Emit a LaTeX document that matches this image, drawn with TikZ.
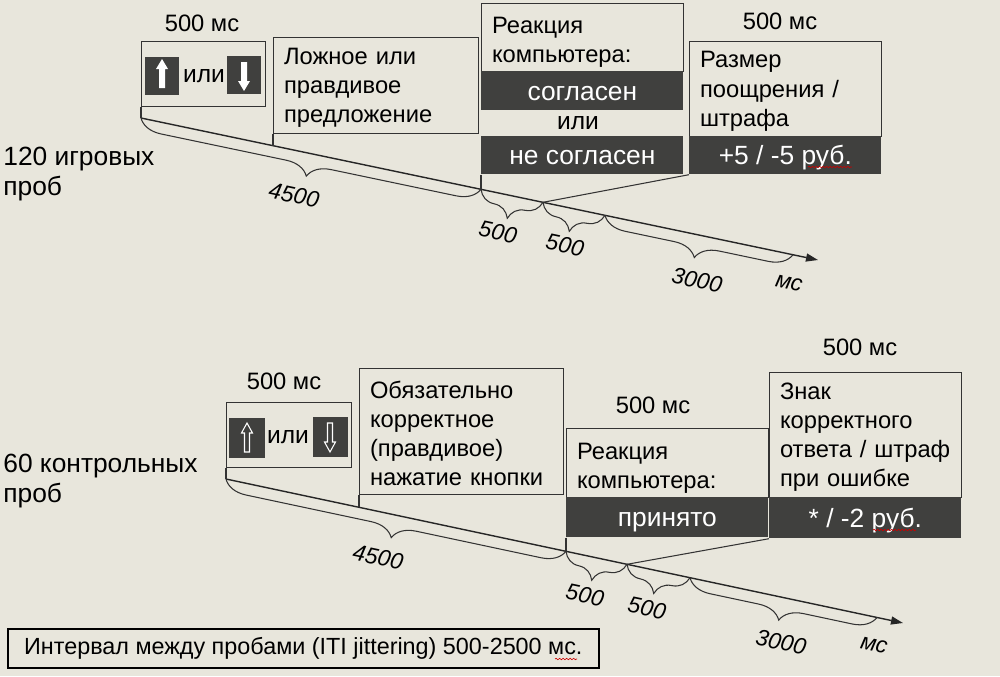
\documentclass[tikz,border=0pt]{standalone}
\usepackage{fontspec}
\setmainfont{Liberation Sans}
\usetikzlibrary{arrows.meta,decorations.pathreplacing,decorations.pathmorphing}
\definecolor{fon}{RGB}{232,230,220}
\definecolor{temno}{RGB}{64,64,62}
\begin{document}
\begin{tikzpicture}[x=0.02cm,y=-0.02cm,
  txt/.style={font=\fontsize{13.5}{16.5}\selectfont},
  ili/.style={font=\fontsize{14}{17}\selectfont, inner sep=0pt},
  proby/.style={font=\fontsize{15}{17.6}\selectfont, align=left, anchor=west, inner sep=0pt},
  ramka/.style={draw=black!80, fill=fon, line width=0.6pt, anchor=north west, align=left, inner xsep=0.21cm, inner ysep=0pt, font=\fontsize{13.5}{16.6}\selectfont},
  tyomn/.style={fill=temno, text=white, anchor=north west, inner sep=0pt, text height=10.7pt, text depth=0pt, font=\fontsize{15}{18}\selectfont},
  kvadrat/.style={fill=temno, inner sep=0pt, minimum width=0.68cm, minimum height=0.78cm},
  tonk/.style={draw=black!80, line width=0.6pt},
  skobka/.style={decorate, decoration={brace, mirror, amplitude=0.46cm}, draw=black!80, line width=0.6pt},
  vremya/.style={font=\fontsize{13}{16}\selectfont\itshape, rotate=-12},
  os/.style={draw=black!85, line width=0.8pt, -{Triangle[length=2.4mm,width=1.6mm]}},
  volna/.style={draw=red!80!black, line width=0.35pt, decorate, decoration={snake, amplitude=0.4pt, segment length=2pt}}
]
\fill[fon] (0,0) rectangle (1000,676);
\useasboundingbox (0,0) rectangle (1000,676);

\node[txt] (ms1) at (202,23) {500 мс};
\node[ramka, minimum width=2.48cm, minimum height=1.3cm] (strelki1) at (141,41) {};
\node[kvadrat] (verh1) at (162,76) {};
\node[kvadrat] (vniz1) at (244,75) {};
\fill[white, shift={(verh1)}] (0,-17) -- (6,-7) -- (3,-7) -- (3,12) -- (-3,12) -- (-3,-7) -- (-6,-7) -- cycle;
\fill[white, shift={(vniz1)}, yscale=-1] (0,-16) -- (6,-6) -- (3,-6) -- (3,13) -- (-3,13) -- (-3,-6) -- (-6,-6) -- cycle;
\node[ili] (ili1) at (204,76) {или};
\node[ramka, text width=3.68cm, minimum height=1.92cm] (predl) at (273,37) {\rule{0pt}{12pt}Ложное или\\правдивое\\предложение};
\node[ramka, text width=3.62cm, minimum height=1.36cm] (reak1) at (481,3) {\rule{0pt}{15pt}Реакция\\компьютера:};
\node[tyomn, minimum width=4.04cm, minimum height=0.78cm] (soglas) at (481,71) {согласен};
\node[ili] (ili2) at (578,123) {или};
\node[tyomn, minimum width=4.04cm, minimum height=0.76cm] (nesoglas) at (481,136) {не согласен};
\node[txt] (ms2) at (780,21) {500 мс};
\node[ramka, text width=3.42cm, minimum height=1.9cm] (razmer) at (689,41) {\rule{0pt}{12pt}Размер\\поощрения /\\штрафа};
\node[tyomn, minimum width=3.84cm, minimum height=0.76cm] (nagrada) at (689,136) {+5 / -5 руб.};
\draw[volna] (808,167) -- (852,167);
\node[proby] (igr) at (3,174) {120 игровых\\проб};

\coordinate (n1) at (141,118);
\coordinate (k1) at (818,260);
\coordinate (p1) at (273,145.7);
\coordinate (p2) at (481,189.3);
\coordinate (p3) at (543,202.3);
\coordinate (p4) at (605,215.3);
\coordinate (p5) at (793,254.8);
\draw[os] (n1) -- (k1);
\draw[tonk] (strelki1.south west) -- (n1);
\draw[tonk] (predl.south west) -- (p1);
\draw[tonk] (nesoglas.south west) -- (p2);
\draw[tonk] (p3) -- (nagrada.south west);
\draw[skobka] (n1) -- (p2);
\draw[skobka] (p2) -- (p3);
\draw[skobka] (p3) -- (p4);
\draw[skobka] (p4) -- (p5);
\node[vremya] (d1) at (294,195) {4500};
\node[vremya] (d2) at (498,232) {500};
\node[vremya] (d3) at (565,245) {500};
\node[vremya] (d4) at (697,280) {3000};
\node[vremya] (d5) at (789,283) {мс};

\node[txt] (ms3) at (284,381) {500 мс};
\node[ramka, minimum width=2.5cm, minimum height=1.3cm] (strelki2) at (226,402) {};
\node[kvadrat, minimum width=0.72cm, minimum height=0.8cm] (verh2) at (247,438) {};
\node[kvadrat, minimum width=0.7cm, minimum height=0.8cm] (vniz2) at (330,437) {};
\draw[white, line width=0.6pt, shift={(verh2)}] (0,-15) -- (5.5,-5) -- (2.5,-5) -- (2.5,14) -- (-2.5,14) -- (-2.5,-5) -- (-5.5,-5) -- cycle;
\draw[white, line width=0.6pt, shift={(vniz2)}, yscale=-1] (0,-15) -- (5.5,-5) -- (2.5,-5) -- (2.5,14) -- (-2.5,14) -- (-2.5,-5) -- (-5.5,-5) -- cycle;
\node[ili] (ili3) at (288,437) {или};
\node[ramka, text width=3.66cm, minimum height=2.52cm] (obyaz) at (359,368) {\rule{0pt}{12pt}Обязательно\\корректное\\(правдивое)\\нажатие кнопки};
\node[txt] (ms4) at (653,405) {500 мс};
\node[ramka, text width=3.62cm, minimum height=1.38cm] (reak2) at (566,428) {\rule{0pt}{15pt}Реакция\\компьютера:};
\node[tyomn, minimum width=4.04cm, minimum height=0.8cm] (prinyato) at (566,497) {принято};
\node[txt] (ms5) at (860,347) {500 мс};
\node[ramka, text width=3.42cm, minimum height=2.5cm] (znak) at (769,372) {\rule{0pt}{12pt}Знак\\корректного\\ответа / штраф\\при ошибке};
\node[tyomn, minimum width=3.84cm, minimum height=0.82cm] (shtraf) at (769,497) {* / -2 руб.};
\draw[volna] (873,530) -- (916,530);
\node[proby] (kontr) at (3,481) {60 контрольных\\проб};

\coordinate (n2) at (226,479);
\coordinate (k2) at (903,623);
\coordinate (q1) at (359,507.3);
\coordinate (q2) at (566,551.3);
\coordinate (q3) at (627,564.3);
\coordinate (q4) at (690,577.7);
\coordinate (q5) at (877,617.5);
\draw[os] (n2) -- (k2);
\draw[tonk] (strelki2.south west) -- (n2);
\draw[tonk] (obyaz.south west) -- (q1);
\draw[tonk] (prinyato.south west) -- (q2);
\draw[tonk] (q3) -- (shtraf.south west);
\draw[skobka] (n2) -- (q2);
\draw[skobka] (q2) -- (q3);
\draw[skobka] (q3) -- (q4);
\draw[skobka] (q4) -- (q5);
\node[vremya] (e1) at (378,557) {4500};
\node[vremya] (e2) at (585,595) {500};
\node[vremya] (e3) at (647,608) {500};
\node[vremya] (e4) at (781,642) {3000};
\node[vremya] (e5) at (874,645) {мс};

\node[draw=black, line width=1pt, fill=fon, minimum width=11.82cm, minimum height=0.78cm, anchor=north west, font=\fontsize{13.3}{16}\selectfont] (interval) at (7,628) {Интервал между пробами (ITI jittering) 500-2500 мс.};
\draw[volna] (555,659) -- (577,659);
\end{tikzpicture}
\end{document}
